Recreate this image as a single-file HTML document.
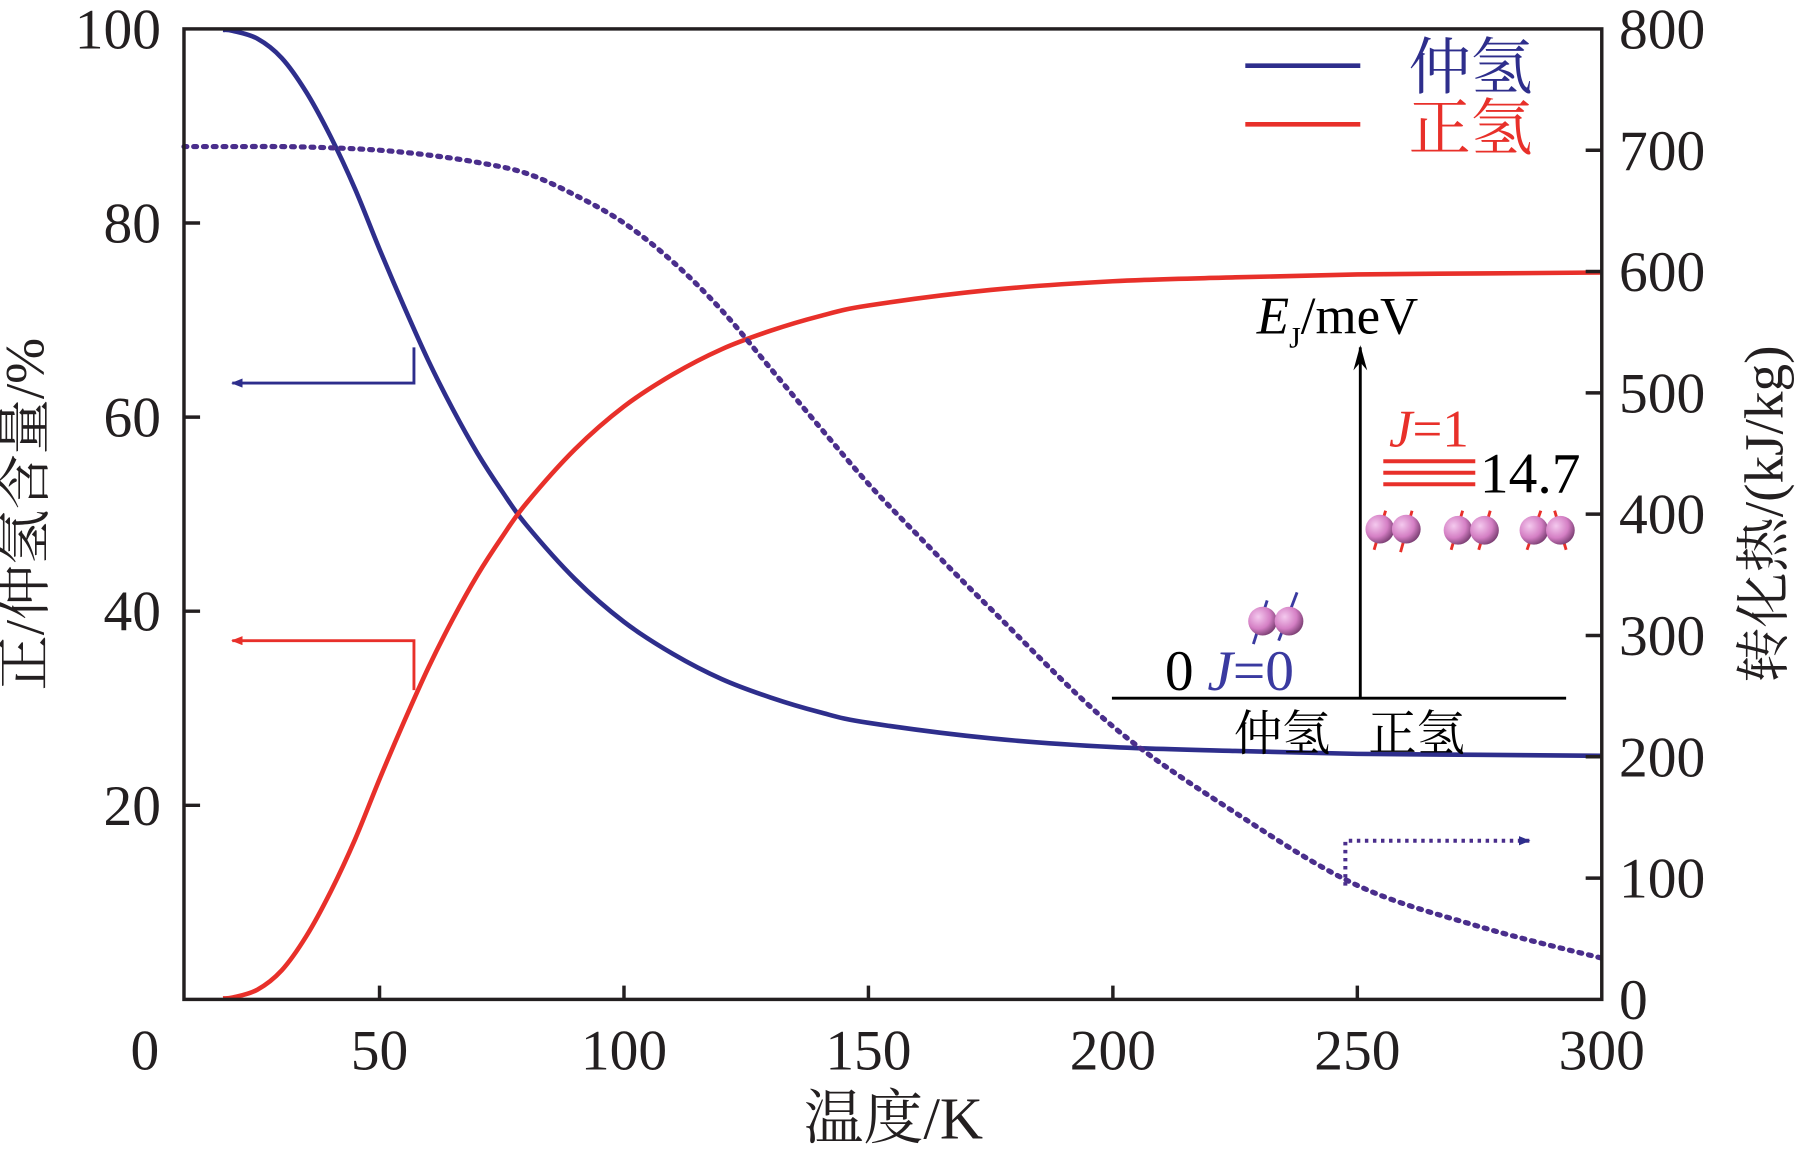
<!DOCTYPE html>
<html><head><meta charset="utf-8"><style>
html,body{margin:0;padding:0;background:#fff}
svg{display:block}
text{font-family:"Liberation Serif","Noto Serif CJK SC",serif}
</style></head><body>
<svg id="chart" width="1803" height="1164" viewBox="0 0 1568 1012" xmlns="http://www.w3.org/2000/svg">
<g id="plot"></g>
</svg>
<script>
const temps=[18,20,25,30,35,40,45,50,55,60,65,70,75,80,90,100,110,120,130,140,150,175,200,225,250,275,300];
const paraPct=[99.9,99.8,99.0,97.0,93.5,88.9,83.5,77.3,71.4,65.8,60.8,56.3,52.4,48.9,43.3,38.9,35.6,33.0,31.1,29.6,28.5,26.9,26.0,25.6,25.3,25.2,25.1];
const heatTemps=[10,18,30,40,50,60,70,80,90,100,110,120,130,140,150,160,175,200,225,250,275,300];
const heatVals=[703,703,703,702,700,696,690,681,663,640,608,568,520,472,425,383,322,225,154,94,60,34];
const xTicks=[0,50,100,150,200,250,300];
const yLeftTicks=[20,40,60,80,100];
const yRightTicks=[0,100,200,300,400,500,600,700,800];

const L=160,R=1393,T=25,B=869;
const x=t=>R-(300-t)*(R-L)/290;
const yl=v=>B-v*(B-T)/100;
const yr=v=>B-v*(B-T)/800;
const NS="http://www.w3.org/2000/svg";
const g=document.getElementById('plot');
function mk(tag,attrs,parent){const e=document.createElementNS(NS,tag);for(const k in attrs)e.setAttribute(k,attrs[k]);(parent||g).appendChild(e);return e;}
function txt(s,attrs){const e=mk('text',attrs);e.textContent=s;return e;}
function smooth(pts){
  let d='M'+pts[0][0]+','+pts[0][1];
  for(let i=0;i<pts.length-1;i++){
    const p0=pts[Math.max(0,i-1)],p1=pts[i],p2=pts[i+1],p3=pts[Math.min(pts.length-1,i+2)];
    const c1x=p1[0]+(p2[0]-p0[0])/6,c1y=p1[1]+(p2[1]-p0[1])/6;
    const c2x=p2[0]-(p3[0]-p1[0])/6,c2y=p2[1]-(p3[1]-p1[1])/6;
    d+='C'+c1x+','+c1y+' '+c2x+','+c2y+' '+p2[0]+','+p2[1];
  }
  return d;
}

let p=mk('path',{d:smooth(temps.map((t,i)=>[x(t),yl(paraPct[i])])),fill:'none',stroke:'#2e2e8c','stroke-width':4});


p=mk('path',{d:smooth(temps.map((t,i)=>[x(t),yl(100-paraPct[i])])),fill:'none',stroke:'#e8302a','stroke-width':4});


p=mk('path',{d:smooth(heatTemps.map((t,i)=>[x(t),yr(heatVals[i])])),fill:'none',stroke:'#4a2e8c','stroke-width':4.5,'stroke-dasharray':'2.5 6','stroke-linecap':'round'});



const fr=mk('rect',{x:L,y:T,width:R-L,height:B-T,fill:'none',stroke:'#231f20','stroke-width':3});



xTicks.forEach(v=>{
  if(v>0&&v<300){const t=mk('line',{x1:x(v),x2:x(v),y1:B,y2:B-12,stroke:'#231f20','stroke-width':3});
  
  }
  const lx=v===0?126:x(v);
  const e=txt(String(v),{x:lx,y:930,'font-size':50,'text-anchor':'middle',fill:'#231f20'});
  
  
});
yLeftTicks.forEach(v=>{
  if(v<100){const t=mk('line',{x1:L,x2:L+14,y1:yl(v),y2:yl(v),stroke:'#231f20','stroke-width':3});
  
  }
  const e=txt(String(v),{x:140,y:yl(v)+17,'font-size':50,'text-anchor':'end',fill:'#231f20'});
  
  
});
yRightTicks.forEach(v=>{
  if(v>0&&v<800){const t=mk('line',{x1:R,x2:R-14,y1:yr(v),y2:yr(v),stroke:'#231f20','stroke-width':3});
  
  }
  const e=txt(String(v),{x:1408,y:yr(v)+17,'font-size':50,'text-anchor':'start',fill:'#231f20'});
  
  
});
</script>
<svg style="position:absolute;left:0;top:0" width="1803" height="1164" viewBox="0 0 1568 1012" xmlns="http://www.w3.org/2000/svg">
<defs>
<marker id="ab" markerWidth="10" markerHeight="8" refX="9" refY="4" orient="auto" markerUnits="userSpaceOnUse"><path d="M0,0 L10,4 L0,8 z" fill="#2e2e8c"/></marker>
<marker id="ar" markerWidth="10" markerHeight="8" refX="9" refY="4" orient="auto" markerUnits="userSpaceOnUse"><path d="M0,0 L10,4 L0,8 z" fill="#e8302a"/></marker>
<marker id="ak" markerWidth="14" markerHeight="20" refX="7" refY="2" orient="auto" markerUnits="userSpaceOnUse"><path d="M7,0 L13,20 L7,12 L1,20 z" fill="#000" transform="rotate(90 7 10)"/></marker>
<radialGradient id="ball" cx="0.35" cy="0.35" r="0.7"><stop offset="0" stop-color="#f4c9ee"/><stop offset="0.6" stop-color="#d47fc4"/><stop offset="1" stop-color="#7a3e72"/></radialGradient>
</defs>
<text x="38" y="447" font-size="48" text-anchor="middle" transform="rotate(-90 38 447)" fill="#231f20">正/仲氢含量/%</text>
<text x="1550" y="447" font-size="48" text-anchor="middle" transform="rotate(-90 1550 447)" fill="#231f20">转化热/(kJ/kg)</text>
<text x="777" y="990" font-size="52" text-anchor="middle" fill="#231f20">温度/K</text>
<g>
<line x1="1083" x2="1183" y1="57" y2="57" stroke="#2e2e8c" stroke-width="4"/>
<text x="1225" y="77" font-size="54" fill="#2e2e8c">仲氢</text>
<line x1="1083" x2="1183" y1="108" y2="108" stroke="#e8302a" stroke-width="4"/>
<text x="1225" y="130" font-size="54" fill="#e8302a">正氢</text>
</g>
<polyline points="360,302 360,333 202,333" fill="none" stroke="#2e2e8c" stroke-width="2.5" marker-end="url(#ab)"/>
<polyline points="360,600 360,557 202,557" fill="none" stroke="#e8302a" stroke-width="2.5" marker-end="url(#ar)"/>
<polyline points="1170,770 1170,731 1330,731" fill="none" stroke="#4a2e8c" stroke-width="3.5" stroke-dasharray="3 4" marker-end="url(#ab)"/>
<g>
<line x1="967" x2="1362" y1="607" y2="607" stroke="#000" stroke-width="2.5"/>
<line x1="1183" x2="1183" y1="607" y2="302" stroke="#000" stroke-width="2.5"/>
<path d="M1183,300 L1189,322 L1183,315 L1177,322 z" fill="#000"/>
<text x="1093" y="290" font-size="46" fill="#000"><tspan font-style="italic">E</tspan><tspan font-size="26" dy="12">J</tspan><tspan dy="-12">/meV</tspan></text>
<text x="1208" y="388" font-size="46" fill="#e8302a"><tspan font-style="italic">J</tspan>=1</text>
<g stroke="#e8302a" stroke-width="3.5">
<line x1="1203" x2="1283" y1="401" y2="401"/><line x1="1203" x2="1283" y1="411" y2="411"/><line x1="1203" x2="1283" y1="421" y2="421"/>
</g>
<text x="1287" y="428" font-size="50" fill="#000">14.7</text>
<g>
<g stroke="#e8302a" stroke-width="2.5"><line x1="1195" y1="478" x2="1205" y2="444"/><line x1="1218" y1="480" x2="1228" y2="444"/><line x1="1262" y1="478" x2="1272" y2="444"/><line x1="1286" y1="478" x2="1296" y2="444"/><line x1="1328" y1="478" x2="1340" y2="444"/><line x1="1352" y1="444" x2="1362" y2="478"/></g>
<circle cx="1200" cy="460" r="12.5" fill="url(#ball)"/><circle cx="1223" cy="460" r="12.5" fill="url(#ball)"/>
<circle cx="1268" cy="461" r="12.5" fill="url(#ball)"/><circle cx="1291" cy="461" r="12.5" fill="url(#ball)"/>
<circle cx="1334" cy="461" r="12.5" fill="url(#ball)"/><circle cx="1357" cy="461" r="12.5" fill="url(#ball)"/>
</g>
<g>
<g stroke="#3a3aa0" stroke-width="2.5"><line x1="1090" y1="560" x2="1102" y2="522"/><line x1="1112" y1="557" x2="1128" y2="515"/></g>
<circle cx="1098" cy="540" r="12.5" fill="url(#ball)"/><circle cx="1121" cy="540" r="12.5" fill="url(#ball)"/>
</g>
<text x="1013" y="600" font-size="50" fill="#000">0</text>
<text x="1050" y="600" font-size="50" fill="#3a3aa0"><tspan font-style="italic">J</tspan>=0</text>
<text x="1073" y="652" font-size="42" fill="#000">仲氢</text>
<text x="1190" y="652" font-size="42" fill="#000">正氢</text>
</g>
</svg>
</body></html>
